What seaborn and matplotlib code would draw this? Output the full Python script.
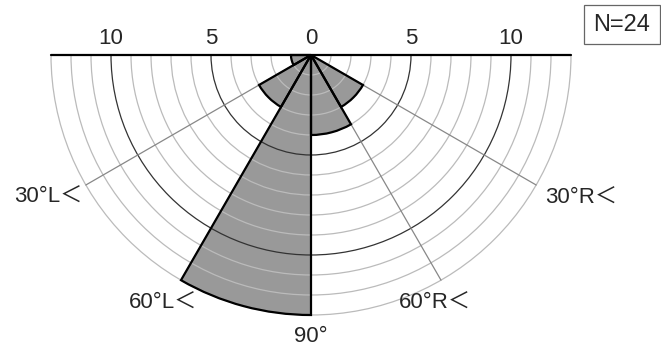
import numpy as np
import matplotlib.pyplot as plt
import seaborn as sns
from matplotlib.patches import Wedge, Arc, Rectangle

# bins: angle from horizontal, L = left side, R = right side
bin_names = ['0-30L', '30-60L', '60-90L', '60-90R', '30-60R', '0-30R']
bin_start = [180, 210, 240, 270, 300, 330]   # wedge start angle (deg, ccw from +x)
counts = [1, 3, 13, 4, 3, 0]
n_total = 24

rmax = 13
tick_vals = [10, 5, 0, 5, 10]
tick_pos = [-10, -5, 0, 5, 10]
dir_labels = ['30°L＜', '60°L＜', '90°', '60°R＜', '30°R＜']
dir_angles = [210, 240, 270, 300, 330]

sns.set_style('white')
plt.rcParams['font.family'] = ['Liberation Sans', 'Noto Sans CJK JP', 'DejaVu Sans']

fig = plt.figure(figsize=(6.61, 3.47), dpi=100)
ax = fig.add_axes([0, 0, 1, 1])
ax.set_xlim(-15.55, 17.5)
ax.set_ylim(-14.6, 2.75)
ax.set_aspect('equal')
ax.axis('off')

# filled sectors
for start, c in zip(bin_start, counts):
    if c > 0:
        ax.add_patch(Wedge((0, 0), c, start, start + 30, facecolor='#999999',
                           edgecolor='none', zorder=1))

# concentric circles
for r in range(1, rmax + 1):
    col = '#333333' if r in (5, 10) else '#bbbbbb'
    ax.add_patch(Arc((0, 0), 2 * r, 2 * r, theta1=180, theta2=360,
                     color=col, lw=0.9, zorder=2))

# radial lines
for a in [210, 240, 300, 330]:
    t = np.deg2rad(a)
    ax.plot([0, rmax * np.cos(t)], [0, rmax * np.sin(t)], color='#888888', lw=0.9, zorder=2)

# sector outlines
for start, c in zip(bin_start, counts):
    if c > 0:
        ax.add_patch(Wedge((0, 0), c, start, start + 30, facecolor='none',
                           edgecolor='black', lw=1.6, zorder=3))

# horizontal axis line
ax.plot([-rmax, rmax], [0, 0], color='black', lw=1.6, zorder=4)
for p, v in zip(tick_pos, tick_vals):
    ax.text(p, 0.85, str(v), ha='center', va='center', fontsize=16)

# direction labels (position relative to the end of each direction line)
offsets = {210: (-0.15, -0.6, 'right'), 240: (-0.9, -1.15, 'center'),
           270: (0, -1.1, 'center'), 300: (-0.3, -1.15, 'center'),
           330: (0.45, -0.65, 'left')}
for lab, a in zip(dir_labels, dir_angles):
    t = np.deg2rad(a)
    dx, dy, ha = offsets[a]
    ax.text(rmax * np.cos(t) + dx, rmax * np.sin(t) + dy, lab, ha=ha, va='center',
            fontsize=16)

# sample count box
ax.add_patch(Rectangle((13.65, 0.55), 3.8, 1.95, facecolor='white',
                       edgecolor='#666666', lw=0.9, zorder=5))
ax.text(15.55, 1.5, f'N={n_total}', ha='center', va='center', fontsize=17, zorder=6)

fig.savefig('out.png', dpi=100)
